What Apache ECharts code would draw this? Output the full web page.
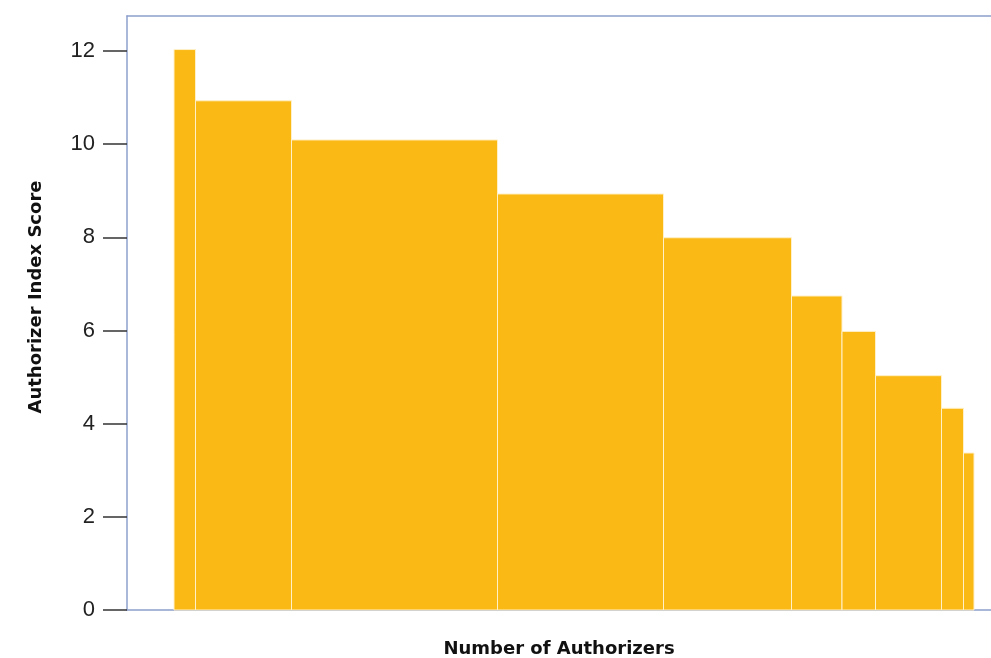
<!DOCTYPE html>
<html>
<head>
<meta charset="utf-8">
<script src="https://cdn.jsdelivr.net/npm/echarts@6/dist/echarts.min.js"></script>
<style>html,body{margin:0;padding:0;background:#fff}#c{width:991px;height:658px}</style>
</head>
<body>
<div id="c"></div>
<script>
// Data: bar widths (number of authorizers, relative units) and index scores
const barWidths = [2.15, 9.6, 20.6, 16.6, 12.8, 5.05, 3.35, 6.6, 2.2, 1.05];
const scores = [12.03, 10.93, 10.09, 8.93, 7.99, 6.74, 5.98, 5.03, 4.33, 3.37];
const xStart = 4.7;
const xMax = 86.4;
const yTicks = [0, 2, 4, 6, 8, 10, 12];
const yMax = 12.75;

const data = [];
let cur = xStart;
for (let i = 0; i < barWidths.length; i++) {
  data.push([cur, cur + barWidths[i], scores[i]]);
  cur += barWidths[i];
}

const axisBlue = '#8C9FCC';
const chart = echarts.init(document.getElementById('c'), null, {renderer: 'canvas'});
chart.setOption({
  animation: false,
  grid: {left: 127, right: 0, top: 16, bottom: 48, containLabel: false, outerBoundsMode: 'none'},
  xAxis: [{
    type: 'value', min: 0, max: xMax,
    name: 'Number of Authorizers', nameLocation: 'middle', nameGap: 30,
    nameTextStyle: {fontFamily: 'DejaVu Sans', fontWeight: 'bold', fontSize: 18, color: '#111'},
    axisLine: {show: true, lineStyle: {color: axisBlue, width: 1.5}},
    axisTick: {show: false}, axisLabel: {show: false}, splitLine: {show: false}
  }, {
    type: 'value', min: 0, max: xMax, position: 'top',
    axisLine: {show: true, lineStyle: {color: axisBlue, width: 1.5}},
    axisTick: {show: false}, axisLabel: {show: false}, splitLine: {show: false}
  }],
  yAxis: {
    type: 'value', min: 0, max: yMax,
    name: 'Authorizer Index Score', nameLocation: 'middle', nameGap: 82,
    nameTextStyle: {fontFamily: 'DejaVu Sans', fontWeight: 'bold', fontSize: 18, color: '#111', padding: [0, 0, 0, 32]},
    axisLine: {show: true, lineStyle: {color: axisBlue, width: 1.5}},
    axisTick: {show: true, length: 24, customValues: yTicks, lineStyle: {color: '#333', width: 1.5}},
    axisLabel: {margin: 32, customValues: yTicks, fontFamily: 'Liberation Sans', fontSize: 22, color: '#222'},
    splitLine: {show: false}
  },
  series: [{
    type: 'custom',
    data: data,
    encode: {x: [0, 1], y: 2},
    renderItem: function (params, api) {
      const p0 = api.coord([api.value(0), api.value(2)]);
      const p1 = api.coord([api.value(1), 0]);
      return {
        type: 'rect',
        shape: {x: p0[0], y: p0[1], width: p1[0] - p0[0], height: p1[1] - p0[1]},
        style: {fill: '#FBB915', stroke: '#FFF0C8', lineWidth: 1}
      };
    }
  }]
});
</script>
</body>
</html>
